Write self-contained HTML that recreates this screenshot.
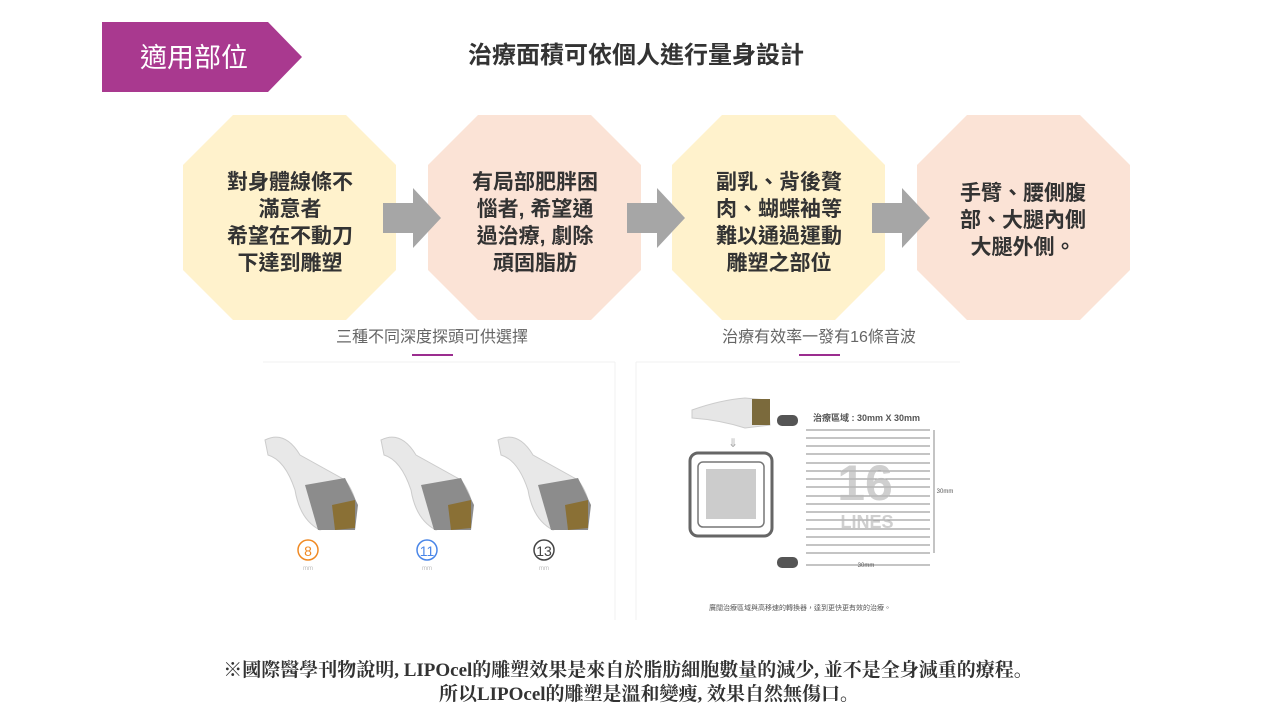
<!DOCTYPE html>
<html><head><meta charset="utf-8"><style>
body{margin:0;background:#fff;}
svg text{font-family:"Liberation Sans","Noto Sans CJK TC",sans-serif;}
.b{font-family:"Liberation Serif","Noto Serif CJK SC","Noto Sans CJK TC",serif;font-weight:bold;}
</style></head><body>
<svg width="1280" height="720" viewBox="0 0 1280 720" xmlns="http://www.w3.org/2000/svg">
<polygon points="102,22 268,22 302,57 268,92 102,92" fill="#a9398f"/>
<text x="194" y="67" font-size="27" fill="#fff" text-anchor="middle">適用部位</text>
<text x="636" y="63" font-size="24" fill="#333" text-anchor="middle" font-weight="bold">治療面積可依個人進行量身設計</text>

<g>
<polygon points="233,115 346,115 396,165 396,270 346,320 233,320 183,270 183,165" fill="#fff2cc"/>
<polygon points="478,115 591,115 641,165 641,270 591,320 478,320 428,270 428,165" fill="#fbe3d6"/>
<polygon points="722,115 835,115 885,165 885,270 835,320 722,320 672,270 672,165" fill="#fff2cc"/>
<polygon points="967,115 1080,115 1130,165 1130,270 1080,320 967,320 917,270 917,165" fill="#fbe3d6"/>
<polygon points="383,203 413,203 413,188 441,218 413,248 413,233 383,233" fill="#a6a6a6"/>
<polygon points="627,203 657,203 657,188 685,218 657,248 657,233 627,233" fill="#a6a6a6"/>
<polygon points="872,203 902,203 902,188 930,218 902,248 902,233 872,233" fill="#a6a6a6"/>
</g>
<g font-size="21" fill="#333" text-anchor="middle" font-weight="bold">
<text x="290" y="189">對身體線條不</text><text x="290" y="216">滿意者</text><text x="290" y="243">希望在不動刀</text><text x="290" y="270">下達到雕塑</text>
<text x="535" y="189">有局部肥胖困</text><text x="535" y="216">惱者, 希望通</text><text x="535" y="243">過治療, 劇除</text><text x="535" y="270">頑固脂肪</text>
<text x="779" y="189">副乳、背後贅</text><text x="779" y="216">肉、蝴蝶袖等</text><text x="779" y="243">難以通過運動</text><text x="779" y="270">雕塑之部位</text>
<text x="1023" y="200">手臂、腰側腹</text><text x="1023" y="227">部、大腿內側</text><text x="1023" y="254">大腿外側。</text>
</g>

<text x="432" y="342" font-size="16" fill="#666" text-anchor="middle">三種不同深度探頭可供選擇</text>
<rect x="412" y="354" width="41" height="2" fill="#9b2d8f"/>
<text x="819" y="342" font-size="16" fill="#666" text-anchor="middle">治療有效率一發有16條音波</text>
<rect x="799" y="354" width="41" height="2" fill="#9b2d8f"/>
<line x1="263" y1="362" x2="615" y2="362" stroke="#f0f0f0"/>
<line x1="615" y1="362" x2="615" y2="620" stroke="#f0f0f0"/>
<line x1="636" y1="362" x2="960" y2="362" stroke="#f0f0f0"/>
<line x1="636" y1="362" x2="636" y2="620" stroke="#f0f0f0"/>

<g id="hp">
<path d="M265,440 Q285,430 300,455 L345,480 Q360,500 355,520 L320,530 Q300,520 295,490 Q285,460 268,455Z" fill="#e8e8e8" stroke="#ccc"/>
<path d="M305,485 L345,478 L358,505 L355,530 L318,530 Z" fill="#8c8c8c"/>
<path d="M332,505 L355,500 L355,528 L335,530Z" fill="#8a7035"/>
</g>
<use href="#hp" x="116"/>
<use href="#hp" x="233"/>
<circle cx="308" cy="550" r="10" fill="none" stroke="#f08a24" stroke-width="1.5"/><text x="308" y="556" font-size="14" fill="#f08a24" text-anchor="middle">8</text>
<circle cx="427" cy="550" r="10" fill="none" stroke="#4a86e8" stroke-width="1.5"/><text x="427" y="556" font-size="14" fill="#4a86e8" text-anchor="middle">11</text>
<circle cx="544" cy="550" r="10" fill="none" stroke="#444" stroke-width="1.5"/><text x="544" y="556" font-size="14" fill="#444" text-anchor="middle">13</text>
<text x="308" y="570" font-size="6" fill="#bbb" text-anchor="middle">mm</text>
<text x="427" y="570" font-size="6" fill="#bbb" text-anchor="middle">mm</text>
<text x="544" y="570" font-size="6" fill="#bbb" text-anchor="middle">mm</text>

<path d="M692,410 Q720,400 745,398 L768,400 L770,425 L745,428 Q720,420 692,418Z" fill="#e6e6e6" stroke="#ccc"/>
<rect x="752" y="399" width="18" height="26" fill="#7b6a3c"/>
<text x="733" y="447" font-size="12" fill="#aaa" text-anchor="middle">⇓</text>
<rect x="690" y="453" width="82" height="83" rx="8" fill="none" stroke="#666" stroke-width="3"/>
<rect x="698" y="462" width="66" height="65" rx="5" fill="none" stroke="#777" stroke-width="1.5"/>
<rect x="706" y="469" width="50" height="50" fill="#ccc"/>
<rect x="777" y="415" width="21" height="11" rx="5" fill="#555"/>
<rect x="777" y="557" width="21" height="11" rx="5" fill="#555"/>
<text x="813" y="421" font-size="9" fill="#555" font-weight="bold">治療區域 : 30mm X 30mm</text>
<g stroke="#888" stroke-width="1">
<line x1="806" y1="430" x2="930" y2="430"/><line x1="806" y1="438" x2="930" y2="438"/><line x1="806" y1="446" x2="930" y2="446"/><line x1="806" y1="454" x2="930" y2="454"/><line x1="806" y1="463" x2="930" y2="463"/><line x1="806" y1="471" x2="930" y2="471"/><line x1="806" y1="479" x2="930" y2="479"/><line x1="806" y1="487" x2="930" y2="487"/><line x1="806" y1="496" x2="930" y2="496"/><line x1="806" y1="504" x2="930" y2="504"/><line x1="806" y1="512" x2="930" y2="512"/><line x1="806" y1="520" x2="930" y2="520"/><line x1="806" y1="529" x2="930" y2="529"/><line x1="806" y1="537" x2="930" y2="537"/><line x1="806" y1="545" x2="930" y2="545"/><line x1="806" y1="553" x2="930" y2="553"/>
<line x1="934" y1="430" x2="934" y2="553"/><line x1="806" y1="565" x2="930" y2="565"/>
</g>
<text x="865" y="500" font-size="50" fill="#bbb" text-anchor="middle" font-weight="bold" opacity="0.7">16</text>
<text x="867" y="528" font-size="18" fill="#bbb" text-anchor="middle" font-weight="bold" opacity="0.7">LINES</text>
<text x="945" y="493" font-size="6" fill="#555" text-anchor="middle">30mm</text>
<text x="866" y="567" font-size="6" fill="#555" text-anchor="middle">30mm</text>
<text x="800" y="610" font-size="7" fill="#555" text-anchor="middle">廣闊治療區域與高移速的轉換器，達到更快更有效的治療。</text>

<text class="b" x="628" y="676" font-size="19" fill="#333" text-anchor="middle">※國際醫學刊物說明, LIPOcel的雕塑效果是來自於脂肪細胞數量的減少, 並不是全身減重的療程。</text>
<text class="b" x="649" y="700" font-size="19" fill="#333" text-anchor="middle">所以LIPOcel的雕塑是溫和變瘦, 效果自然無傷口。</text>
</svg>
</body></html>
